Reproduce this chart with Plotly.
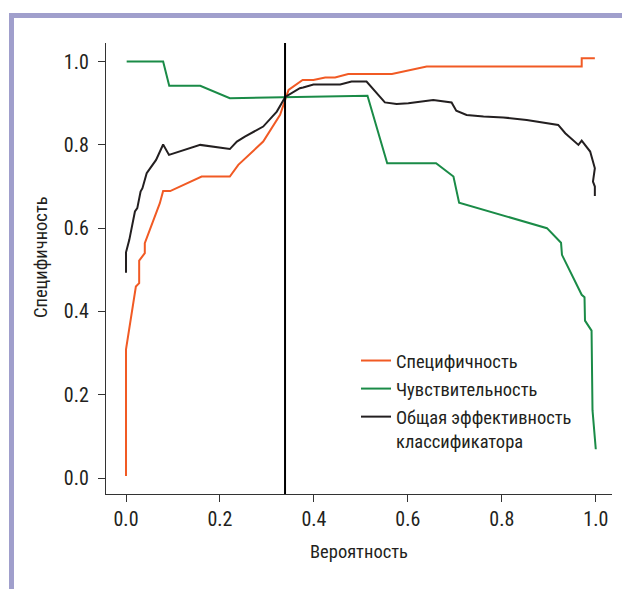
import plotly.graph_objects as go

# ---- data ----
spec_x = [0.0, 0.0, 0.021, 0.028, 0.028, 0.040, 0.040, 0.072, 0.079, 0.094, 0.161, 0.221, 0.239, 0.292, 0.328,
          0.339, 0.346, 0.376, 0.399, 0.424, 0.445, 0.473, 0.566, 0.640, 0.970, 0.970, 0.998]
spec_y = [0.005, 0.309, 0.460, 0.468, 0.522, 0.540, 0.564, 0.660, 0.689, 0.689, 0.724, 0.724, 0.752, 0.808, 0.872,
          0.912, 0.932, 0.956, 0.956, 0.962, 0.962, 0.970, 0.970, 0.988, 0.988, 1.008, 1.008]

sens_x = [0.0014, 0.079, 0.092, 0.158, 0.221, 0.339, 0.514, 0.556, 0.660, 0.697, 0.709, 0.896, 0.926, 0.928,
          0.970, 0.976, 0.977, 0.991, 0.993, 1.0]
sens_y = [1.0, 1.0, 0.942, 0.942, 0.912, 0.915, 0.918, 0.756, 0.756, 0.724, 0.661, 0.600, 0.565, 0.536,
          0.440, 0.434, 0.378, 0.354, 0.163, 0.069]

acc_x = [0.0, 0.0, 0.007, 0.019, 0.024, 0.031, 0.035, 0.039, 0.044, 0.049, 0.064, 0.079, 0.0915, 0.158, 0.221,
         0.236, 0.253, 0.292, 0.321, 0.339, 0.370, 0.377, 0.399, 0.456, 0.480, 0.512, 0.551, 0.576, 0.601, 0.654,
         0.693, 0.703, 0.725, 0.761, 0.803, 0.853, 0.896, 0.920, 0.935, 0.963, 0.970, 0.988, 0.998, 0.994, 0.998, 0.998]
acc_y = [0.493, 0.542, 0.572, 0.640, 0.648, 0.688, 0.696, 0.714, 0.732, 0.740, 0.764, 0.801, 0.776, 0.800, 0.790,
         0.808, 0.820, 0.844, 0.880, 0.915, 0.936, 0.938, 0.945, 0.945, 0.952, 0.952, 0.902, 0.898, 0.900, 0.908,
         0.902, 0.882, 0.872, 0.868, 0.866, 0.860, 0.852, 0.848, 0.828, 0.800, 0.810, 0.784, 0.744, 0.712, 0.700, 0.677]

cutoff = 0.3385

names = ["Специфичность", "Чувствительность", "Общая эффективность<br>классификатора"]
colors = ["#f15a24", "#1a8b47", "#231f20"]

x_ticks = [0.0, 0.2, 0.4, 0.6, 0.8, 1.0]
y_ticks = [0.0, 0.2, 0.4, 0.6, 0.8, 1.0]
x_title = "Вероятность"
y_title = "Специфичность"

FONT = "Roboto Condensed, Liberation Sans Narrow, Arial Narrow, sans-serif"
TXT = "#231f20"

# page body has an 8px margin, so the figure starts at (8, 8) in the screenshot
OFF = 8
W, H = 630 - OFF, 589 - OFF
ML, MR, MT, MB = 98, 18, 35, 95
PW, PH = W - ML - MR, H - MT - MB


def px(x_ref):
    return (x_ref - OFF - ML) / PW


def py(y_ref):
    return (H - MB - (y_ref - OFF)) / PH


fig = go.Figure()
for i, (xs, ys) in enumerate([(spec_x, spec_y), (sens_x, sens_y), (acc_x, acc_y)]):
    fig.add_trace(go.Scatter(x=xs, y=ys, mode="lines", name=names[i], legendgroup=str(i),
                             line=dict(color=colors[i], width=2)))

fig.add_vline(x=cutoff, line=dict(color="#000000", width=2))

# decorative lavender frame
frame = "#a09fcc"
fig.add_shape(type="rect", xref="paper", yref="paper", x0=px(9), x1=px(640), y0=py(18), y1=py(13),
              fillcolor=frame, line_width=0, layer="below")
fig.add_shape(type="rect", xref="paper", yref="paper", x0=px(9), x1=px(14), y0=py(600), y1=py(13),
              fillcolor=frame, line_width=0, layer="below")

axis_common = dict(showgrid=False, zeroline=False, showline=True, linecolor="#333333", linewidth=1.3,
                   ticks="outside", ticklen=7, tickcolor="#333333", tickwidth=1.3,
                   tickfont=dict(family=FONT, size=20, color=TXT))
fig.update_xaxes(range=[-0.0426, 1.0345], tickvals=x_ticks, ticktext=[f"{v:.1f}" for v in x_ticks],
                 **axis_common)
fig.update_yaxes(range=[-0.0384, 1.0447], tickvals=y_ticks, ticktext=[f"{v:.1f}" for v in y_ticks],
                 ticklabelstandoff=5, **axis_common)

fig.add_annotation(text=x_title, xref="paper", yref="paper", x=px(359), y=py(552), showarrow=False,
                   font=dict(family=FONT, size=18.5, color=TXT), xanchor="center", yanchor="middle")
fig.add_annotation(text=y_title, xref="paper", yref="paper", x=px(41), y=py(257), showarrow=False,
                   textangle=-90, font=dict(family=FONT, size=18.5, color=TXT), xanchor="center", yanchor="middle")

fig.update_layout(
    width=W, height=H, margin=dict(l=ML, r=MR, t=MT, b=MB),
    paper_bgcolor="white", plot_bgcolor="white",
    font=dict(family=FONT, color=TXT),
    legend=dict(x=px(356), y=py(342), xanchor="left", yanchor="top", bgcolor="rgba(0,0,0,0)",
                font=dict(family=FONT, size=18.5, color=TXT), tracegroupgap=1, valign="top"),
)

fig.write_html("out.html")
